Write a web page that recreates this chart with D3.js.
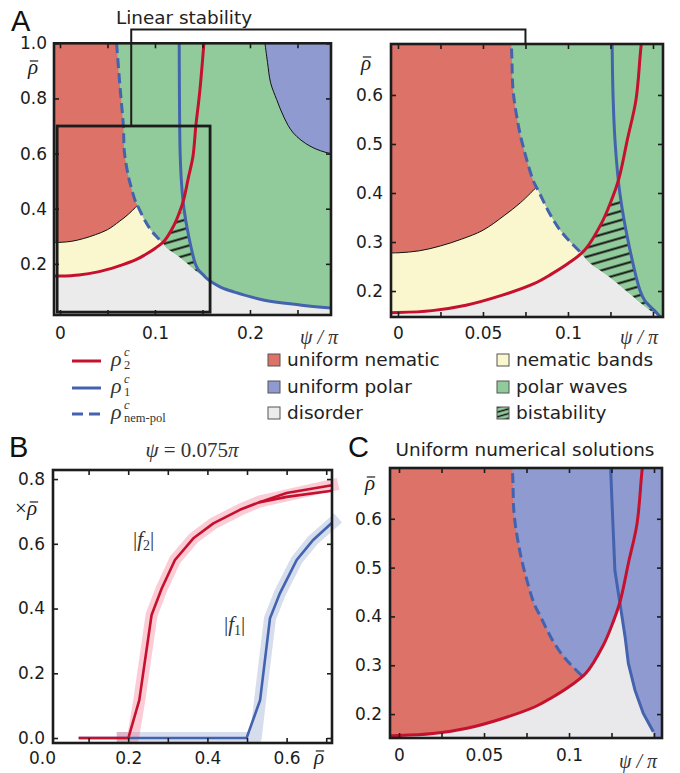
<!DOCTYPE html>
<html><head><meta charset="utf-8">
<script src="https://cdn.jsdelivr.net/npm/d3@7/dist/d3.min.js"></script>
<style>html,body{margin:0;padding:0;background:#fff}svg{display:block}</style>
</head><body>
<svg id="chart" width="680" height="773"></svg>
<script>
// ================= DATA =================
// Panel A / C : critical densities versus psi/pi
const rho2Psi = [-0.01, 0, 0.02, 0.04, 0.06, 0.08, 0.09, 0.10, 0.11, 0.12, 0.125, 0.13, 0.135, 0.14, 0.143, 0.147, 0.1515];
const rho2Val = [0.156, 0.156, 0.160, 0.171, 0.190, 0.215, 0.234, 0.256, 0.284, 0.340, 0.380, 0.430, 0.510, 0.590, 0.700, 0.820, 1.0];
const rho1Psi = [0.1255, 0.1257, 0.1260, 0.1265, 0.1278, 0.1305, 0.1355, 0.1425, 0.1453, 0.1506, 0.1545, 0.160, 0.170, 0.1825, 0.214, 0.2526, 0.29];
const rho1Val = [1.0, 0.85, 0.70, 0.60, 0.50, 0.40, 0.30, 0.20, 0.18, 0.161, 0.147, 0.133, 0.114, 0.099, 0.069, 0.051, 0.038];
const nemPolPsi = [0.0596, 0.0630, 0.0667, 0.0677, 0.0706, 0.0737, 0.0796, 0.0825, 0.0894, 0.0952, 0.1011, 0.1080];
const nemPolVal = [1.0, 0.85, 0.70, 0.61, 0.542, 0.494, 0.425, 0.405, 0.357, 0.325, 0.301, 0.277];
const bandsTopPsi = [-0.01, 0, 0.0125, 0.025, 0.0375, 0.05, 0.0625, 0.072, 0.0815];
const bandsTopVal = [0.278, 0.278, 0.282, 0.292, 0.306, 0.324, 0.354, 0.38, 0.412];
const wavesLowPsi = [0.1080, 0.1129, 0.1227, 0.1325, 0.1424, 0.1482, 0.1545];
const wavesLowVal = [0.277, 0.257, 0.233, 0.2055, 0.1765, 0.161, 0.147];
const polarPsi = [0.2158, 0.2185, 0.2217, 0.2281, 0.236, 0.2456, 0.2632, 0.2853, 0.30];
const polarVal = [1.0, 0.93, 0.857, 0.796, 0.73, 0.675, 0.627, 0.60, 0.60];
const bistTopRho = 0.385;
const psiCut = 0.075;                       // "Linear stability" bracket / panel B
const zoomBoxPsi = [-0.003, 0.158];
const zoomBoxRho = [0.025, 0.70];
// Panel C : numerical rho1
const numRho1Psi = [0.1244, 0.1257, 0.127, 0.130, 0.133, 0.1349, 0.1388, 0.1437, 0.1496];
const numRho1Val = [0.71, 0.60, 0.494, 0.426, 0.358, 0.304, 0.249, 0.2014, 0.164];
// Panel B : order parameters at psi = 0.075 pi
const f2Rho = [0.075, 0.2003, 0.228, 0.259, 0.2846, 0.318, 0.3645, 0.415, 0.482, 0.53];
const f2Val = [0, 0, 0.117, 0.38, 0.462, 0.55, 0.617, 0.663, 0.705, 0.728];
const f2UpRho = [0.53, 0.60, 0.7146];
const f2UpVal = [0.728, 0.757, 0.781];
const f2LoRho = [0.53, 0.60, 0.7146];
const f2LoVal = [0.728, 0.745, 0.764];
const f1Rho = [0.075, 0.499, 0.533, 0.558, 0.583, 0.6255, 0.667, 0.7146];
const f1Val = [0, 0, 0.117, 0.37, 0.447, 0.55, 0.612, 0.665];
const f2NumRho = [0.171, 0.212, 0.228, 0.259, 0.2846, 0.318, 0.3645, 0.415, 0.482, 0.53, 0.62, 0.73];
const f2NumVal = [0, 0, 0.117, 0.38, 0.462, 0.55, 0.617, 0.663, 0.705, 0.73, 0.755, 0.785];
const f1NumRho = [0.171, 0.522, 0.533, 0.558, 0.583, 0.6255, 0.667, 0.73];
const f1NumVal = [0, 0, 0.117, 0.37, 0.447, 0.55, 0.612, 0.68];
// ticks
const aLXTicks = [0, 0.05, 0.1, 0.15, 0.2, 0.25];
const aLXLabels = ["0", "", "0.1", "", "0.2", ""];
const aLYTicks = [0.2, 0.4, 0.6, 0.8, 1.0];
const aLYLabels = ["0.2", "0.4", "0.6", "0.8", "1.0"];
const zXTicks = [0, 0.025, 0.05, 0.075, 0.1, 0.125, 0.15];
const zXLabels = ["0", "", "0.05", "", "0.1", "", ""];
const zYTicks = [0.2, 0.3, 0.4, 0.5, 0.6];
const zYLabels = ["0.2", "0.3", "0.4", "0.5", "0.6"];
const bXTicks = [0, 0.1, 0.2, 0.3, 0.4, 0.5, 0.6, 0.7];
const bXLabels = ["0.0", "", "0.2", "", "0.4", "", "0.6", ""];
const bYTicks = [0, 0.2, 0.4, 0.6, 0.8];
const bYLabels = ["0.0", "0.2", "0.4", "0.6", "0.8"];
// legend
const legendLineNames = ["2", "1", "nem-pol"];
const legendRegionNames = ["uniform nematic", "nematic bands", "uniform polar", "polar waves", "disorder", "bistability"];

// ================= STYLE =================
const C = {
  nem: "#dc7268", pol: "#8f9bd0", bands: "#faf7cf", waves: "#92cb9b", dis: "#ebebeb",
  red: "#c5102e", blue: "#4363ae", ink: "#1c1c1c"
};
const SANS = "DejaVu Sans, sans-serif";
const SERIF = "Liberation Serif, DejaVu Serif, serif";

const svg = d3.select("#chart");
const defs = svg.append("defs");
function hatchPattern(id, gap, w) {
  const p = defs.append("pattern").attr("id", id).attr("patternUnits", "userSpaceOnUse")
    .attr("width", 30).attr("height", gap).attr("patternTransform", "rotate(-16)");
  p.append("rect").attr("width", 30).attr("height", gap).attr("fill", C.waves);
  p.append("line").attr("x1", 0).attr("x2", 30).attr("y1", gap / 2).attr("y2", gap / 2)
    .attr("stroke", "#111").attr("stroke-width", w);
}
hatchPattern("hatch", 8.6, 2);
hatchPattern("hatchSmall", 4.5, 1.5);

const zip = (a, b) => a.map((v, i) => [v, b[i]]);
const red = zip(rho2Psi, rho2Val), blue = zip(rho1Psi, rho1Val), dash = zip(nemPolPsi, nemPolVal);
const bandsTop = zip(bandsTopPsi, bandsTopVal), wavesLow = zip(wavesLowPsi, wavesLowVal);
const polar = zip(polarPsi, polarVal), numBlue = zip(numRho1Psi, numRho1Val);

function xAtY(curve, yv) {
  for (let i = 0; i < curve.length - 1; i++) {
    const a = curve[i], b = curve[i + 1];
    if ((yv - a[1]) * (yv - b[1]) <= 0 && a[1] !== b[1]) return a[0] + (b[0] - a[0]) * (yv - a[1]) / (b[1] - a[1]);
  }
  return curve[curve.length - 1][0];
}
function areaPath(x, y, segs) {
  const sm = d3.line().x(d => x(d[0])).y(d => y(d[1])).curve(d3.curveCatmullRom.alpha(0.5));
  const st = d3.line().x(d => x(d[0])).y(d => y(d[1]));
  return segs.map((s, i) => {
    let p = (s.smooth ? sm : st)(s.pts).replace(/Z$/, "");
    return i ? p.replace(/^M/, "L") : p;
  }).join("") + "Z";
}
const smoothLine = (x, y) => d3.line().x(d => x(d[0])).y(d => y(d[1])).curve(d3.curveCatmullRom.alpha(0.5));
const linLine = (x, y) => d3.line().x(d => x(d[0])).y(d => y(d[1]));

const cross = dash[dash.length - 1];
const redLeft = red.filter(p => p[0] < cross[0]);
const YT = 1.2, YB = -0.2, XL = -0.01;

const nemSegs = [
  { pts: [[XL, YT], [dash[0][0], YT]], smooth: false },
  { pts: dash, smooth: true },
  { pts: [cross, ...redLeft.slice().reverse()], smooth: true }
];
const bandsSegs = [
  { pts: bandsTop, smooth: true },
  { pts: [bandsTop[bandsTop.length - 1], ...dash.filter(p => p[1] < bandsTop[bandsTop.length - 1][1])], smooth: true },
  { pts: [cross, ...redLeft.slice().reverse()], smooth: true }
];
const wavesEnd = wavesLow[wavesLow.length - 1];
const disSegs = [
  { pts: [...redLeft, cross], smooth: true },
  { pts: wavesLow, smooth: true },
  { pts: [wavesEnd, ...blue.filter(p => p[0] > wavesEnd[0])], smooth: true },
  { pts: [blue[blue.length - 1], [blue[blue.length - 1][0], YB], [XL, YB]], smooth: false }
];
const bxTop = xAtY(blue, bistTopRho), rxTop = xAtY(red, bistTopRho);
const hatchSegs = [
  { pts: wavesLow, smooth: true },
  { pts: [wavesEnd, ...blue.filter(p => p[1] > wavesEnd[1] && p[1] < bistTopRho).reverse(), [bxTop, bistTopRho]], smooth: true },
  { pts: [[bxTop, bistTopRho], [rxTop, bistTopRho]], smooth: false },
  { pts: [[rxTop, bistTopRho], ...red.filter(p => p[0] > cross[0] && p[0] < rxTop).reverse(), cross], smooth: true }
];
const polarSegs = [
  { pts: polar, smooth: true },
  { pts: [polar[polar.length - 1], [0.4, polar[polar.length - 1][1]], [0.4, YT], [polar[0][0], YT]], smooth: false }
];
const cCrossPsi = 0.130;
const cGraySegs = [
  { pts: red.filter(p => p[0] <= cCrossPsi), smooth: true },
  { pts: numBlue.filter(p => p[1] < 0.43), smooth: false },
  { pts: [numBlue[numBlue.length - 1], [numBlue[numBlue.length - 1][0], YB], [XL, YB]], smooth: false }
];

// ================= helpers for frames / text =================
let clipN = 0;
function panel(x, y) {
  const id = "clip" + (clipN++);
  const [x0, x1] = x.range(), [y1, y0] = y.range();
  defs.append("clipPath").attr("id", id).append("rect")
    .attr("x", x0).attr("y", y0).attr("width", x1 - x0).attr("height", y1 - y0);
  const g = svg.append("g");
  const inner = g.append("g").attr("clip-path", `url(#${id})`);
  return { g, inner };
}
function frame(g, x, y, xt, xl, yt, yl, padX, padY) {
  const [x0, x1] = x.range(), [y1, y0] = y.range();
  const inDom = (s, v) => v >= Math.min(...s.domain()) && v <= Math.max(...s.domain());
  const style = a => {
    a.select(".domain").remove();
    a.attr("font-family", SANS).attr("font-size", 17).attr("color", C.ink);
    a.selectAll(".tick line").attr("stroke-width", 1.6);
  };
  const fmtX = d => xl[xt.indexOf(d)], fmtY = d => yl[yt.indexOf(d)];
  const bx = g.append("g").attr("transform", `translate(0,${y1})`)
    .call(d3.axisBottom(x).tickValues(xt).tickFormat(fmtX).tickSizeInner(-5).tickSizeOuter(0).tickPadding(padX)).call(style);
  bx.selectAll(".tick").filter(d => !inDom(x, d)).select("line").remove();
  bx.selectAll(".tick").filter(d => !inDom(x, d)).select("text").attr("dx", -7);
  g.append("g").attr("transform", `translate(0,${y0})`)
    .call(d3.axisTop(x).tickValues(xt.filter(d => inDom(x, d))).tickFormat("").tickSizeInner(-5).tickSizeOuter(0)).call(style);
  g.append("g").attr("transform", `translate(${x0},0)`)
    .call(d3.axisLeft(y).tickValues(yt).tickFormat(fmtY).tickSizeInner(-5).tickSizeOuter(0).tickPadding(padY)).call(style);
  g.append("g").attr("transform", `translate(${x1},0)`)
    .call(d3.axisRight(y).tickValues(yt).tickFormat("").tickSizeInner(-5).tickSizeOuter(0)).call(style);
  g.append("rect").attr("x", x0).attr("y", y0).attr("width", x1 - x0).attr("height", y1 - y0)
    .attr("fill", "none").attr("stroke", C.ink).attr("stroke-width", 2.6);
}
function rhoBar(g, cx, base, size, prefix) {
  const t = g.append("text").attr("x", cx).attr("y", base).attr("font-family", SERIF)
    .attr("font-size", size).attr("text-anchor", "middle").attr("fill", C.ink);
  if (prefix) t.append("tspan").text(prefix);
  t.append("tspan").attr("font-style", "italic").text("ρ");
  const off = prefix ? size * 0.33 : 0;
  g.append("line").attr("x1", cx + off - size * 0.2 + 1).attr("x2", cx + off + size * 0.2 + 1)
    .attr("y1", base - size * 0.62).attr("y2", base - size * 0.62).attr("stroke", C.ink).attr("stroke-width", 1.2);
}
function psiPi(g, cx, base) {
  g.append("text").attr("x", cx).attr("y", base).attr("font-family", SERIF).attr("font-size", 20)
    .attr("font-style", "italic").attr("text-anchor", "middle").attr("fill", "#333").text("ψ / π");
}
function letter(t, x, y) {
  svg.append("text").attr("x", x).attr("y", y).attr("font-family", "Liberation Sans, Arial, sans-serif")
    .attr("font-size", 29).attr("fill", "#111").text(t);
}

// ================= PANEL A (left: full range, right: zoom) =================
const xA = d3.scaleLinear([-0.0063, 0.2853], [54, 331]);
const yA = d3.scaleLinear([0.0145, 1.0], [315, 43.3]);
const xZ = d3.scaleLinear([-0.0041, 0.1559], [391, 663]);
const yZ = d3.scaleLinear([0.147, 0.704], [317, 44]);

function drawLinear(x, y) {
  const { g, inner } = panel(x, y);
  inner.append("rect").attr("x", x.range()[0]).attr("y", y.range()[1]).attr("width", x.range()[1] - x.range()[0])
    .attr("height", y.range()[0] - y.range()[1]).attr("fill", C.waves);
  inner.append("path").attr("d", areaPath(x, y, polarSegs)).attr("fill", C.pol);
  inner.append("path").attr("d", areaPath(x, y, nemSegs)).attr("fill", C.nem);
  inner.append("path").attr("d", areaPath(x, y, bandsSegs)).attr("fill", C.bands);
  inner.append("path").attr("d", areaPath(x, y, disSegs)).attr("fill", C.dis);
  inner.append("path").attr("d", areaPath(x, y, hatchSegs)).attr("fill", "url(#hatch)");
  inner.append("path").attr("d", smoothLine(x, y)(bandsTop)).attr("fill", "none").attr("stroke", "#111").attr("stroke-width", 1);
  inner.append("path").attr("d", smoothLine(x, y)(polar)).attr("fill", "none").attr("stroke", "#111").attr("stroke-width", 1);
  inner.append("path").attr("d", smoothLine(x, y)(blue)).attr("fill", "none").attr("stroke", C.blue).attr("stroke-width", 3);
  inner.append("path").attr("d", smoothLine(x, y)(dash)).attr("fill", "none").attr("stroke", C.blue)
    .attr("stroke-width", 3).attr("stroke-dasharray", "10,5");
  inner.append("path").attr("d", smoothLine(x, y)(red)).attr("fill", "none").attr("stroke", C.red).attr("stroke-width", 3);
  return g;
}
const gA = drawLinear(xA, yA);
gA.append("rect").attr("x", xA(zoomBoxPsi[0])).attr("y", yA(zoomBoxRho[1]))
  .attr("width", xA(zoomBoxPsi[1]) - xA(zoomBoxPsi[0])).attr("height", yA(zoomBoxRho[0]) - yA(zoomBoxRho[1]))
  .attr("fill", "none").attr("stroke", C.ink).attr("stroke-width", 2.8);
frame(gA, xA, yA, aLXTicks, aLXLabels, aLYTicks, aLYLabels, 12, 7);
rhoBar(gA, 33, 74, 21);
psiPi(gA, 319, 344);

const gZ = drawLinear(xZ, yZ);
frame(gZ, xZ, yZ, zXTicks, zXLabels, zYTicks, zYLabels, 10, 8);
rhoBar(gZ, 366, 70, 21);
psiPi(gZ, 639, 344);

// bracket "Linear stability"
const brY = 29.5;
svg.append("path").attr("d", d3.line()([[xA(psiCut), yA(zoomBoxRho[1])], [xA(psiCut), brY], [xZ(psiCut), brY], [xZ(psiCut), yZ.range()[1]]]))
  .attr("fill", "none").attr("stroke", C.ink).attr("stroke-width", 2);
svg.append("text").attr("x", 184).attr("y", 24).attr("text-anchor", "middle").attr("font-family", SANS)
  .attr("font-size", 18.4).attr("fill", "#222").text("Linear stability");
letter("A", 11, 31);

// ================= LEGEND =================
const lg = svg.append("g");
const rowY = [360, 387, 413];
[[C.red, null], [C.blue, null], [C.blue, "11,6"]].forEach((s, i) => {
  lg.append("line").attr("x1", 72).attr("x2", 101).attr("y1", rowY[i] + 1).attr("y2", rowY[i] + 1)
    .attr("stroke", s[0]).attr("stroke-width", 3).attr("stroke-dasharray", s[1]);
  lg.append("text").attr("x", 111).attr("y", rowY[i] + 6).attr("font-family", SERIF).attr("font-size", 22)
    .attr("font-style", "italic").attr("fill", "#333").text("ρ");
  lg.append("text").attr("x", 124).attr("y", rowY[i] - 4).attr("font-family", SERIF).attr("font-size", 12.5)
    .attr("font-style", "italic").attr("fill", "#333").text("c");
  lg.append("text").attr("x", 124).attr("y", rowY[i] + 8.5).attr("font-family", SERIF).attr("font-size", 12.5)
    .attr("fill", "#333").text(legendLineNames[i]);
});
const regionFill = [C.nem, C.bands, C.pol, C.waves, C.dis, "url(#hatchSmall)"];
legendRegionNames.forEach((name, i) => {
  const col = i % 2, row = Math.floor(i / 2);
  const sx = col ? 497 : 268, cy = rowY[row];
  lg.append("rect").attr("x", sx).attr("y", cy - 6).attr("width", 12).attr("height", 12)
    .attr("fill", regionFill[i]).attr("stroke", "#555").attr("stroke-width", 1);
  lg.append("text").attr("x", sx + 19).attr("y", cy + 6).attr("font-family", SANS).attr("font-size", 18.5)
    .attr("fill", "#222").text(name);
});

// ================= PANEL B =================
const xB = d3.scaleLinear([0.0101, 0.7146], [53, 332]);
const yB = d3.scaleLinear([-0.0154, 0.828], [743, 470]);
const gB = svg.append("g");
const lB = linLine(xB, yB);
gB.append("path").attr("d", lB(zip(f1NumRho, f1NumVal))).attr("fill", "none").attr("stroke", "#4363ae")
  .attr("stroke-opacity", 0.22).attr("stroke-width", 12).attr("stroke-linejoin", "round");
gB.append("path").attr("d", lB(zip(f2NumRho, f2NumVal))).attr("fill", "none").attr("stroke", "#f2607f")
  .attr("stroke-opacity", 0.32).attr("stroke-width", 12).attr("stroke-linejoin", "round");
gB.append("path").attr("d", lB(zip(f1Rho, f1Val))).attr("fill", "none").attr("stroke", C.blue).attr("stroke-width", 2.6);
gB.append("path").attr("d", lB(zip(f2Rho, f2Val).concat(zip(f2UpRho, f2UpVal).slice(1)))).attr("fill", "none")
  .attr("stroke", C.red).attr("stroke-width", 2.6).attr("stroke-linejoin", "round");
gB.append("path").attr("d", lB(zip(f2LoRho, f2LoVal))).attr("fill", "none").attr("stroke", C.red).attr("stroke-width", 2.6);
frame(gB, xB, yB, bXTicks, bXLabels, bYTicks, bYLabels, 9, 8);
rhoBar(gB, 26, 515, 21, "×");
rhoBar(gB, 319, 764, 21);
const fLab = (x, y, sub) => {
  const t = gB.append("text").attr("x", x).attr("y", y).attr("font-family", SERIF).attr("font-size", 21).attr("fill", "#333");
  t.append("tspan").text("|");
  t.append("tspan").attr("font-style", "italic").text("f");
  t.append("tspan").attr("font-size", 14).attr("dy", 4).text(sub);
  t.append("tspan").attr("dy", -4).text("|");
};
fLab(133, 546, "2");
fLab(224, 631, "1");
const tB = gB.append("text").attr("x", 192).attr("y", 457).attr("text-anchor", "middle").attr("font-family", SERIF)
  .attr("font-size", 21).attr("fill", "#333");
tB.append("tspan").attr("font-style", "italic").text("ψ");
tB.append("tspan").text(" = 0." + String(psiCut).slice(2));
tB.append("tspan").attr("font-style", "italic").text("π");
letter("B", 9, 457);

// ================= PANEL C =================
const xC = d3.scaleLinear([-0.0053, 0.1547], [390, 662]);
const yC = d3.scaleLinear([0.151, 0.704], [738, 468]);
{
  const { g, inner } = panel(xC, yC);
  inner.append("rect").attr("x", 390).attr("y", 468).attr("width", 272).attr("height", 270).attr("fill", C.pol);
  inner.append("path").attr("d", areaPath(xC, yC, nemSegs)).attr("fill", C.nem);
  inner.append("path").attr("d", areaPath(xC, yC, cGraySegs)).attr("fill", "#e9e9eb");
  inner.append("path").attr("d", linLine(xC, yC)(numBlue)).attr("fill", "none").attr("stroke", C.blue).attr("stroke-width", 3);
  inner.append("path").attr("d", smoothLine(xC, yC)(dash)).attr("fill", "none").attr("stroke", C.blue)
    .attr("stroke-width", 3).attr("stroke-dasharray", "10,5");
  inner.append("path").attr("d", smoothLine(xC, yC)(red)).attr("fill", "none").attr("stroke", C.red).attr("stroke-width", 3);
  frame(g, xC, yC, zXTicks, zXLabels, zYTicks, zYLabels, 11, 8);
  rhoBar(g, 370, 490, 21);
  psiPi(g, 638, 768);
  g.append("text").attr("x", 525).attr("y", 456).attr("text-anchor", "middle").attr("font-family", SANS)
    .attr("font-size", 18.4).attr("fill", "#222").text("Uniform numerical solutions");
}
letter("C", 348, 457);
</script>
</body></html>
